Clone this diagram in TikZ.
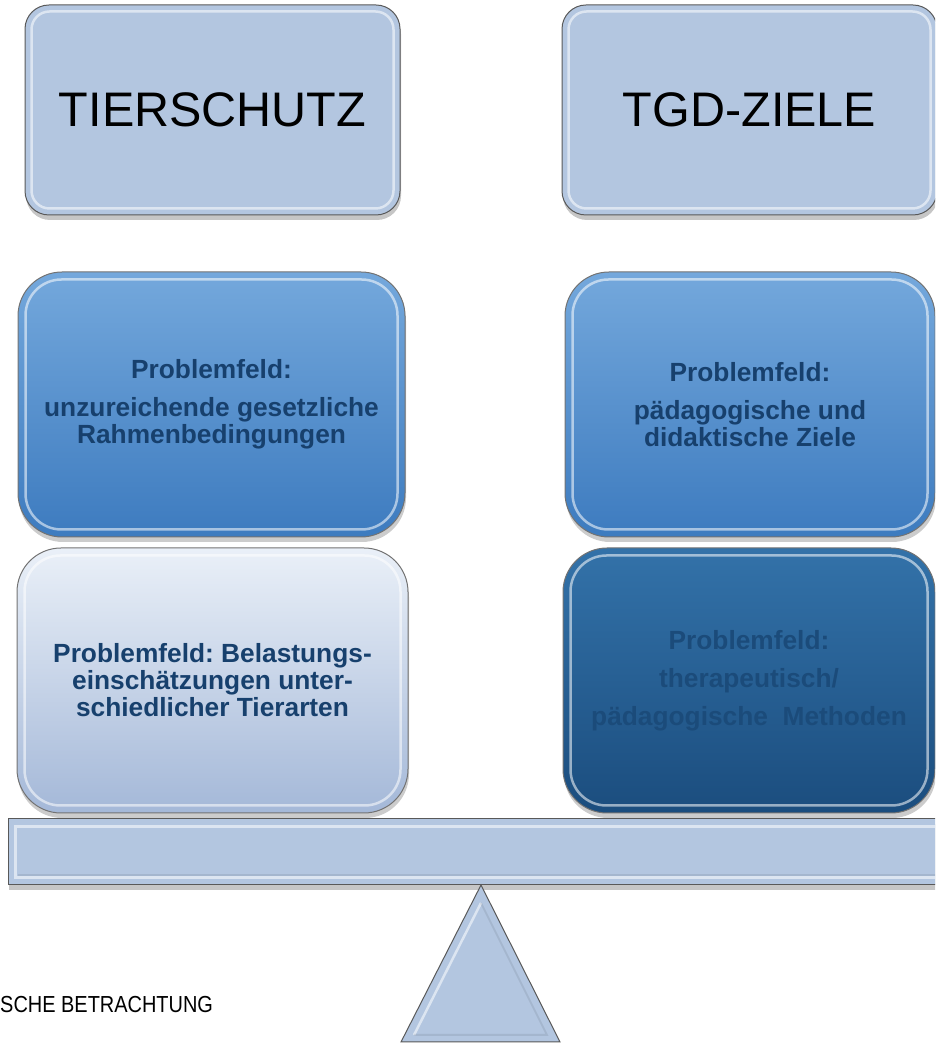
\documentclass[tikz,border=0pt]{standalone}
\usepackage{fontspec}
\setmainfont{Liberation Sans}
\newfontfamily\narrowfont[FakeStretch=0.86]{Liberation Sans}
\usepackage{tikz}
\usetikzlibrary{calc,shapes,positioning,shadows}
\frenchspacing

\definecolor{steel}{HTML}{B3C6E0}
\definecolor{midtop}{HTML}{74A8DC}
\definecolor{midbot}{HTML}{3D7BBF}
\definecolor{lighttop}{HTML}{EAF0F8}
\definecolor{lightbot}{HTML}{A4B8D8}
\definecolor{darktop}{HTML}{3372A9}
\definecolor{darkbot}{HTML}{1B4D7E}
\definecolor{txtblue}{HTML}{17406D}
\definecolor{txtdim}{HTML}{1B4B7A}

\begin{document}
\begin{tikzpicture}[x=1pt,y=1pt]
        \useasboundingbox (0,0) rectangle (935,1044);
        \clip (0,0) rectangle (935,1044);

        \tikzstyle{hnode} = [draw=black!65, line width=1pt, fill=steel, rounded corners=24pt,
                             minimum width=375pt, minimum height=210pt,
                             drop shadow={shadow xshift=1pt, shadow yshift=-5pt, opacity=0.45},
                             font=\fontsize{48.5}{56}\selectfont]
        \tikzstyle{pnode} = [draw=black!55, line width=1pt, rounded corners=44pt,
                             minimum height=265pt, align=center, text=txtblue,
                             drop shadow={shadow xshift=1pt, shadow yshift=-5pt, opacity=0.4},
                             font=\bfseries\fontsize{26.3}{27}\selectfont]
        \tikzstyle{bevel} = [draw=white, line width=2.5pt, opacity=0.55]
        \tikzstyle{shade} = [draw=black, line width=2pt, opacity=0.08]

        % headings
        \node[hnode] (tier) at (212.5,934) {TIERSCHUTZ};
        \node[hnode] (tgd) at (749.5,934) {TGD-ZIELE};

        % problem fields
        \node[pnode, minimum width=387pt, top color=midtop, bottom color=midbot] (geset) at (211.5,639.5)
            {Problemfeld:\\[11pt]unzureichende gesetzliche\\Rahmenbedingungen};
        \node[pnode, minimum width=370pt, top color=midtop, bottom color=midbot] (ziele) at (750,639.5)
            {Problemfeld:\\[11pt]pädagogische und\\didaktische Ziele};
        \node[pnode, minimum width=391pt, top color=lighttop, bottom color=lightbot] (belast) at (212.5,363.5)
            {Problemfeld: Belastungs-\\einschätzungen unter-\\schiedlicher Tierarten};
        \node[pnode, minimum width=372pt, top color=darktop, bottom color=darkbot, text=txtdim,
              font=\bfseries\fontsize{26.3}{38}\selectfont] (method) at (749,363.5)
            {Problemfeld:\\therapeutisch/\\pädagogische\ \ Methoden};

        % inner bevels
        \foreach \n in {tier,tgd} {
          \draw[bevel, rounded corners=18pt] ($(\n.south west)+(7,7)$) rectangle ($(\n.north east)+(-7,-7)$);
        }
        \foreach \n in {geset,ziele,belast,method} {
          \draw[bevel, rounded corners=36pt] ($(\n.south west)+(8,8)$) rectangle ($(\n.north east)+(-8,-8)$);
        }

        % beam
        \node[draw=black!65, line width=1pt, fill=steel, minimum width=952pt, minimum height=66pt,
              drop shadow={shadow xshift=1pt, shadow yshift=-5pt, opacity=0.45}] (beam) at (484,192) {};
        \draw[bevel] ($(beam.south west)+(8,8)$) rectangle ($(beam.north east)+(-8,-8)$);
        \draw[shade] ($(beam.south west)+(10,10)$) -- ($(beam.south east)+(-10,10)$);

        % fulcrum
        \coordinate (apex) at (481,159);
        \coordinate (bl) at (401,2);
        \coordinate (br) at (560,2);
        \draw[draw=black!65, line width=1pt, fill=steel] (apex) -- (bl) -- (br) -- cycle;
        \draw[bevel] ($(apex)+(0,-18)$) -- ($(bl)+(13,7)$);
        \draw[shade] ($(bl)+(13,7)$) -- ($(br)+(-13,7)$) -- ($(apex)+(0,-18)$);

        % caption
        \node[anchor=west, inner sep=0pt, font=\narrowfont\fontsize{23.2}{26}\selectfont] (capt) at (0,39)
            {SCHE BETRACHTUNG};
\end{tikzpicture}
\end{document}
